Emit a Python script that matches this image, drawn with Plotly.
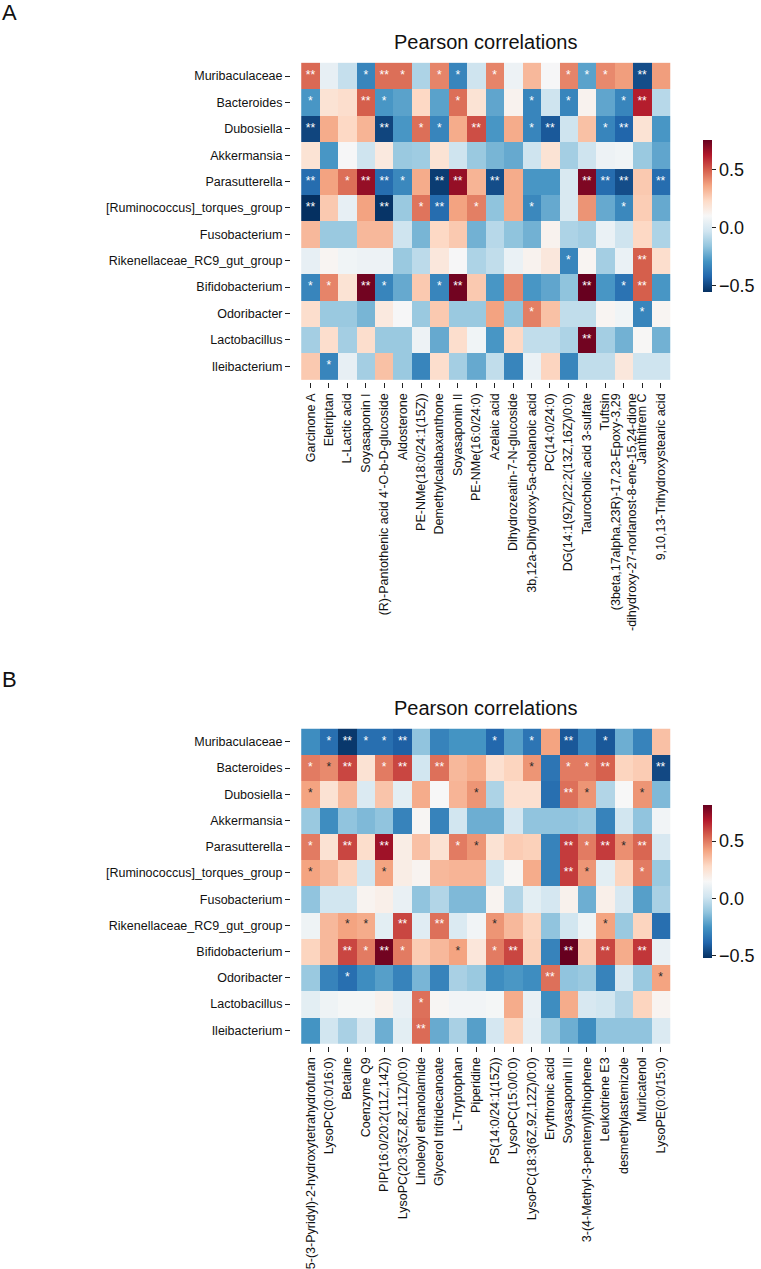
import plotly.graph_objects as go

W, H = 761, 1269
FONT = "Arial, Liberation Sans, sans-serif"

genera = ["Muribaculaceae", "Bacteroides", "Dubosiella", "Akkermansia", "Parasutterella",
          "[Ruminococcus]_torques_group", "Fusobacterium", "Rikenellaceae_RC9_gut_group",
          "Bifidobacterium", "Odoribacter", "Lactobacillus", "Ileibacterium"]

metab_a = ["Garcinone A", "Eletriptan", "L-Lactic acid", "Soyasaponin I",
           "(R)-Pantothenic acid 4'-O-b-D-glucoside", "Aldosterone", "PE-NMe(18:0/24:1(15Z))",
           "Demethylcalabaxanthone", "Soyasaponin II", "PE-NMe(16:0/24:0)", "Azelaic acid",
           "Dihydrozeatin-7-N-glucoside", "3b,12a-Dihydroxy-5a-cholanoic acid", "PC(14:0/24:0)",
           "DG(14:1(9Z)/22:2(13Z,16Z)/0:0)", "Taurocholic acid 3-sulfate", "Tuftsin",
           "(3beta,17alpha,23R)-17,23-Epoxy-3,29<br>-dihydroxy-27-norlanost-8-ene-15,24-dione",
           "Janthitrem C", "9,10,13-Trihydroxystearic acid"]

metab_b = ["5-(3-Pyridyl)-2-hydroxytetrahydrofuran", "LysoPC(0:0/16:0)", "Betaine", "Coenzyme Q9",
           "PIP(16:0/20:2(11Z,14Z))", "LysoPC(20:3(5Z,8Z,11Z)/0:0)", "Linoleoyl ethanolamide",
           "Glycerol tritridecanoate", "L-Tryptophan", "Piperidine", "PS(14:0/24:1(15Z))",
           "LysoPC(15:0/0:0)", "LysoPC(18:3(6Z,9Z,12Z)/0:0)", "Erythronic acid", "Soyasaponin III",
           "3-(4-Methyl-3-pentenyl)thiophene", "Leukotriene E3", "desmethylastemizole",
           "Muricatenol", "LysoPE(0:0/15:0)"]

corr_a = [
    [0.48, 0.05, -0.05, -0.33, 0.47, 0.47, -0.10, 0.43, -0.33, -0.03, 0.43, 0.07, 0.32, 0.10, 0.43, -0.25, 0.42, 0.38, -0.48, 0.38],
    [-0.28, 0.20, 0.22, 0.50, -0.28, -0.25, 0.24, -0.25, 0.47, 0.20, -0.24, 0.13, -0.33, -0.03, -0.33, 0.13, -0.24, -0.33, 0.62, -0.08],
    [-0.50, 0.35, 0.24, 0.33, -0.50, -0.28, 0.47, -0.33, 0.35, 0.53, -0.28, 0.35, -0.33, -0.45, -0.03, 0.30, -0.33, -0.42, 0.20, -0.28],
    [0.20, -0.28, 0.10, -0.03, 0.17, -0.14, -0.13, 0.20, -0.03, -0.14, -0.20, -0.23, -0.03, 0.20, -0.12, -0.03, 0.07, 0.08, -0.14, -0.24],
    [-0.40, 0.37, 0.47, 0.68, -0.40, -0.32, 0.35, -0.52, 0.68, 0.33, -0.48, 0.35, -0.28, -0.28, 0.00, 0.72, -0.40, -0.48, 0.28, -0.40],
    [-0.55, 0.28, 0.05, 0.37, -0.54, -0.14, 0.46, -0.40, 0.37, 0.44, -0.16, 0.35, -0.32, -0.23, 0.00, 0.40, -0.23, -0.32, 0.27, -0.23],
    [0.32, -0.14, -0.14, 0.32, 0.32, -0.03, -0.20, 0.24, 0.28, -0.21, -0.08, -0.16, -0.21, 0.13, -0.10, -0.12, 0.06, -0.03, 0.24, -0.10],
    [0.05, 0.12, 0.08, 0.07, 0.07, -0.14, -0.07, 0.18, 0.10, -0.10, -0.06, 0.06, 0.13, 0.18, -0.33, 0.12, -0.12, 0.06, 0.50, 0.22],
    [-0.33, 0.43, 0.20, 0.74, -0.33, -0.23, 0.28, -0.33, 0.74, 0.28, -0.28, 0.43, -0.28, -0.24, -0.16, 0.76, -0.28, -0.38, 0.50, -0.28],
    [0.22, -0.14, -0.14, -0.20, 0.17, 0.10, -0.14, 0.28, -0.14, -0.14, 0.37, -0.16, 0.44, 0.30, -0.06, -0.06, 0.12, 0.08, -0.33, 0.12],
    [-0.12, 0.22, -0.12, 0.22, -0.14, -0.14, 0.07, -0.23, 0.22, 0.08, -0.28, 0.24, -0.06, -0.06, -0.10, 0.74, -0.12, -0.21, 0.11, -0.21],
    [0.28, -0.33, 0.05, -0.12, 0.30, -0.14, -0.33, 0.22, -0.12, -0.23, -0.06, -0.33, 0.06, 0.25, -0.33, -0.06, -0.06, 0.18, -0.03, -0.03],
]

stars_a = [
    ["**", "", "", "*", "**", "*", "", "*", "*", "", "*", "", "", "", "*", "*", "*", "", "**", ""],
    ["*", "", "", "**", "*", "", "", "", "*", "", "", "", "*", "", "*", "", "", "*", "**", ""],
    ["**", "", "", "", "**", "", "*", "*", "", "**", "", "", "*", "**", "", "", "*", "**", "", ""],
    ["", "", "", "", "", "", "", "", "", "", "", "", "", "", "", "", "", "", "", ""],
    ["**", "", "*", "**", "**", "*", "", "**", "**", "", "**", "", "", "", "", "**", "**", "**", "", "**"],
    ["**", "", "", "", "**", "", "*", "**", "", "*", "", "", "*", "", "", "", "", "*", "", ""],
    ["", "", "", "", "", "", "", "", "", "", "", "", "", "", "", "", "", "", "", ""],
    ["", "", "", "", "", "", "", "", "", "", "", "", "", "", "*", "", "", "", "**", ""],
    ["*", "*", "", "**", "*", "", "", "*", "**", "", "", "", "", "", "", "**", "", "*", "**", ""],
    ["", "", "", "", "", "", "", "", "", "", "", "", "*", "", "", "", "", "", "*", ""],
    ["", "", "", "", "", "", "", "", "", "", "", "", "", "", "", "**", "", "", "", ""],
    ["", "*", "", "", "", "", "", "", "", "", "", "", "", "", "", "", "", "", "", ""],
]

corr_b = [
    [-0.27, -0.36, -0.50, -0.36, -0.36, -0.40, -0.12, -0.30, -0.25, -0.25, -0.38, -0.22, -0.34, 0.42, -0.42, -0.30, -0.42, -0.18, -0.30, 0.35],
    [0.50, 0.47, 0.60, 0.25, 0.50, 0.60, 0.02, 0.52, 0.37, 0.40, 0.26, 0.30, 0.45, -0.34, 0.50, 0.50, 0.55, 0.30, 0.32, -0.46],
    [0.42, 0.25, 0.37, 0.05, 0.34, 0.08, 0.40, 0.15, 0.38, 0.45, -0.06, 0.26, 0.26, -0.36, 0.52, 0.45, -0.05, 0.15, 0.45, -0.15],
    [-0.10, -0.27, -0.12, -0.15, -0.12, -0.30, 0.16, -0.30, 0.02, -0.18, -0.18, 0.03, -0.12, -0.12, -0.12, -0.10, -0.30, 0.02, -0.12, 0.13],
    [0.50, 0.25, 0.60, 0.27, 0.72, 0.20, 0.35, 0.25, 0.50, 0.45, 0.25, 0.32, 0.31, -0.30, 0.62, 0.50, 0.62, 0.46, 0.54, 0.04],
    [0.42, 0.37, 0.30, 0.02, 0.42, 0.20, 0.17, 0.37, 0.38, 0.38, 0.02, 0.16, 0.40, -0.30, 0.62, 0.45, 0.08, 0.30, 0.50, -0.10],
    [-0.12, 0.02, 0.02, 0.17, 0.19, 0.10, -0.12, -0.05, -0.15, -0.15, 0.17, -0.05, 0.08, 0.03, 0.18, -0.18, 0.19, 0.04, -0.22, -0.07],
    [0.12, 0.37, 0.42, 0.40, 0.08, 0.60, 0.07, 0.52, 0.05, 0.13, 0.45, 0.37, 0.30, -0.12, 0.02, 0.12, 0.42, -0.10, 0.30, -0.36],
    [0.30, 0.37, 0.60, 0.50, 0.80, 0.50, 0.32, 0.37, 0.42, 0.23, 0.50, 0.60, 0.31, -0.30, 0.82, 0.32, 0.60, 0.40, 0.63, 0.10],
    [-0.10, -0.30, -0.36, -0.27, -0.22, -0.30, -0.16, -0.30, -0.07, -0.10, -0.27, -0.24, -0.27, 0.52, -0.12, -0.10, -0.30, 0.04, -0.10, 0.42],
    [0.08, 0.12, 0.14, 0.14, 0.18, 0.10, 0.52, 0.16, 0.13, 0.13, 0.14, 0.40, 0.10, -0.27, 0.40, 0.04, 0.02, -0.05, 0.30, 0.17],
    [-0.25, 0.02, -0.07, 0.04, -0.18, 0.08, 0.53, -0.19, -0.07, -0.22, 0.03, 0.30, 0.09, -0.10, -0.18, -0.27, -0.12, -0.12, -0.12, 0.05],
]

# "k" suffix marks a star drawn in dark instead of white
stars_b = [
    ["", "*", "**", "*", "*", "**", "", "", "", "", "*", "", "*", "", "**", "", "*", "", "", ""],
    ["*", "*k", "**", "", "*", "**", "", "**", "", "", "", "", "*k", "", "*", "*", "**", "", "", "**"],
    ["*k", "", "", "", "", "", "", "", "", "*k", "", "", "", "", "**", "*k", "", "", "*k", ""],
    ["", "", "", "", "", "", "", "", "", "", "", "", "", "", "", "", "", "", "", ""],
    ["*", "", "**", "", "**", "", "", "", "*", "*k", "", "", "", "", "**", "*", "**", "*k", "**", ""],
    ["*k", "", "", "", "*k", "", "", "", "", "", "", "", "", "", "**", "*k", "", "", "*", ""],
    ["", "", "", "", "", "", "", "", "", "", "", "", "", "", "", "", "", "", "", ""],
    ["", "", "*k", "*k", "", "**", "", "**", "", "", "*k", "", "", "", "", "", "*k", "", "", ""],
    ["", "", "**", "*", "**", "*", "", "", "*k", "", "*", "**", "", "", "**", "", "**", "", "**", ""],
    ["", "", "*", "", "", "", "", "", "", "", "", "", "", "**", "", "", "", "", "", "*k"],
    ["", "", "", "", "", "", "*", "", "", "", "", "", "", "", "", "", "", "", "", ""],
    ["", "", "", "", "", "", "**", "", "", "", "", "", "", "", "", "", "", "", "", ""],
]

range_a = (-0.55, 0.76)
range_b = (-0.52, 0.82)
cbar_ticks = [-0.5, 0.0, 0.5]
cbar_ticktext = ["\u22120.5", "0.0", "0.5"]

rdbu_r = ["#053061", "#2166ac", "#4393c3", "#92c5de", "#d1e5f0", "#f7f7f7",
          "#fddbc7", "#f4a582", "#d6604d", "#b2182b", "#67001f"]
colorscale = [[i / 10, c] for i, c in enumerate(rdbu_r)]


def px_x(p):
    return p / W


def px_y(p):
    return 1 - p / H


fig = go.Figure()

panels = [
    dict(cols=metab_a, z=corr_a, stars=stars_a, rng=range_a, xa="x", ya="y",
         top=60, bottom=383, cb_top=140, cb_bot=292, title_y=42, letter="A", letter_y=13),
    dict(cols=metab_b, z=corr_b, stars=stars_b, rng=range_b, xa="x2", ya="y2",
         top=727, bottom=1048, cb_top=806, cb_bot=959, title_y=709, letter="B", letter_y=681),
]

left, right = 291, 680
annotations = []
for p in panels:
    fig.add_trace(go.Heatmap(
        z=p["z"], x=p["cols"], y=genera, xaxis=p["xa"], yaxis=p["ya"],
        colorscale=colorscale, zmin=p["rng"][0], zmax=p["rng"][1],
        xgap=0, ygap=0, hoverongaps=False,
        colorbar=dict(
            x=px_x(703), xanchor="left", xpad=0, ypad=0,
            y=px_y((p["cb_top"] + p["cb_bot"]) / 2), yanchor="middle",
            len=p["cb_bot"] - p["cb_top"], lenmode="pixels",
            thickness=9, thicknessmode="pixels", outlinewidth=0,
            tickvals=cbar_ticks, ticktext=cbar_ticktext,
            ticks="outside", ticklen=4, tickcolor="#222", tickwidth=1,
            tickfont=dict(family=FONT, size=18, color="#111"),
        ),
    ))
    for col_key, colr in (("w", "white"), ("k", "#2a2a2a")):
        xs, ys, ts = [], [], []
        for r, row in enumerate(p["stars"]):
            for c, s in enumerate(row):
                if not s:
                    continue
                is_dark = s.endswith("k")
                if (col_key == "k") != is_dark:
                    continue
                xs.append(p["cols"][c])
                ys.append(genera[r])
                ts.append(s.rstrip("k"))
        if xs:
            fig.add_trace(go.Scatter(
                x=xs, y=ys, text=ts, mode="text", xaxis=p["xa"], yaxis=p["ya"],
                textposition="middle center",
                textfont=dict(family=FONT, size=12, color=colr),
                hoverinfo="skip", showlegend=False,
            ))
    annotations.append(dict(
        text="Pearson correlations", x=px_x((left + right) / 2), y=px_y(p["title_y"]),
        xref="paper", yref="paper", xanchor="center", yanchor="middle", showarrow=False,
        font=dict(family=FONT, size=20, color="#111"),
    ))
    annotations.append(dict(
        text=p["letter"], x=px_x(0), y=px_y(p["letter_y"]),
        xref="paper", yref="paper", xanchor="left", yanchor="middle", showarrow=False,
        font=dict(family=FONT, size=22, color="#111"),
    ))

axis_common = dict(showgrid=False, zeroline=False, showline=False, ticks="outside",
                   ticklen=5, tickwidth=1, tickcolor="#222",
                   tickfont=dict(family=FONT, size=12.5, color="#111"))

layout = dict(
    width=W, height=H, margin=dict(l=0, r=0, t=0, b=0),
    paper_bgcolor="white", plot_bgcolor="white", showlegend=False,
    annotations=annotations,
)
for i, p in enumerate(panels):
    sx = "" if i == 0 else "2"
    layout["xaxis" + sx] = dict(axis_common, domain=[px_x(left), px_x(right)],
                                anchor="y" + sx, tickangle=-90,
                                categoryorder="array", categoryarray=p["cols"])
    layout["yaxis" + sx] = dict(axis_common, domain=[px_y(p["bottom"]), px_y(p["top"])],
                                anchor="x" + sx, autorange="reversed",
                                categoryorder="array", categoryarray=genera)

fig.update_layout(**layout)
fig.write_html("out.html", config={"displayModeBar": False},
               post_script="document.body.style.margin='0';document.body.style.overflow='hidden';")
